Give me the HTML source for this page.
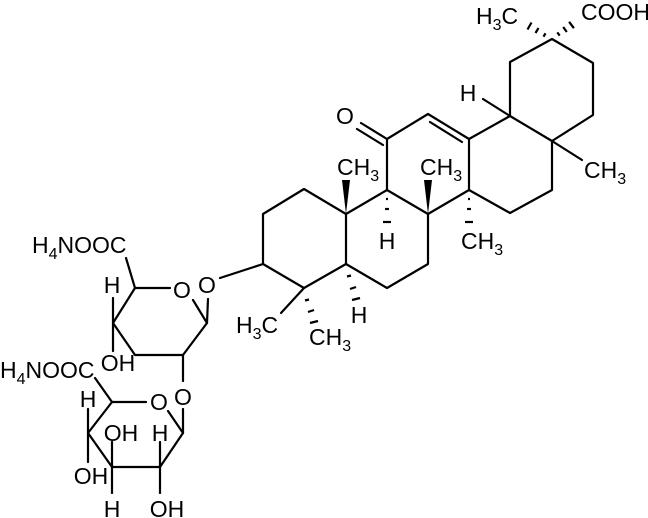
<!DOCTYPE html>
<html><head><meta charset="utf-8"><style>
html,body{margin:0;padding:0;background:#fff;}
svg{display:block}
text{font-family:"Liberation Sans",Arial,sans-serif;font-size:23px;fill:#000}
tspan.s{font-size:16px}
</style></head><body>
<svg width="648" height="518" viewBox="0 0 648 518" xmlns="http://www.w3.org/2000/svg">
<g stroke="#000" stroke-width="2.2" fill="none" stroke-linecap="round" stroke-linejoin="round">
<polyline points="346,214 304,189 263,214 263,264 304,288 346,264 346,214"/>
<polyline points="346,214 387,190 428,214 428,264 387,288 346,264"/>
<polyline points="387,190 387,139 428,114 469,139 469,190 428,214"/>
<line x1="430" y1="122" x2="462" y2="142"/>
<line x1="387" y1="139" x2="361" y2="123"/>
<line x1="383" y1="145" x2="357" y2="129"/>
<polyline points="469,139 510,116 552,141 552,190 510,213 469,190"/>
<polyline points="510,116 510,62 552,39 593,63 593,115 552,141"/>
<line x1="552" y1="141" x2="582" y2="160"/>
<line x1="510" y1="116" x2="483" y2="99"/>
<line x1="263" y1="264" x2="220" y2="278"/>
<line x1="304" y1="288" x2="281" y2="313"/>
<polyline points="170,288 135,288 113,323 135,355 183,355 207,323 193,300"/>
<line x1="207" y1="323" x2="208" y2="299"/>
<line x1="135" y1="288" x2="126" y2="258"/>
<line x1="113" y1="298" x2="113" y2="351"/>
<line x1="183" y1="355" x2="183" y2="381"/>
<polyline points="146,402 112,402 88,433 112,467 160,467 183,433 168,411"/>
<line x1="183" y1="433" x2="183" y2="409"/>
<line x1="112" y1="402" x2="95" y2="378"/>
<line x1="88" y1="409" x2="88" y2="462"/>
<line x1="112" y1="442" x2="112" y2="493"/>
<line x1="160" y1="442" x2="160" y2="493"/>
</g>
<polygon points="346,214 342,180 350,180" fill="#000"/>
<polygon points="428,214 424,180 432,180" fill="#000"/>
<g stroke="#000" stroke-width="2.2">
<line x1="386" y1="199" x2="388" y2="199"/><line x1="385" y1="209" x2="389" y2="209"/><line x1="383" y1="222" x2="391" y2="222"/>
<line x1="468" y1="199" x2="470" y2="199"/><line x1="467" y1="209" x2="471" y2="209"/><line x1="465" y1="222" x2="473" y2="222"/>
<line x1="347" y1="276.5" x2="351" y2="275.5"/><line x1="350" y1="289" x2="356" y2="287"/><line x1="352" y1="300" x2="360" y2="298"/>
<line x1="305" y1="300.5" x2="309" y2="299.5"/><line x1="308" y1="312" x2="314" y2="310"/><line x1="310" y1="323" x2="318" y2="321"/>
<line x1="543.5" y1="36.7" x2="545.5" y2="33.3"/><line x1="535.5" y1="33" x2="538.5" y2="28"/><line x1="527.5" y1="29.5" x2="531.5" y2="22.5"/>
<line x1="557.3" y1="32.4" x2="559.7" y2="35.6"/><line x1="563.2" y1="27" x2="566.8" y2="32"/><line x1="569.1" y1="21.8" x2="573.9" y2="28.2"/>
</g>
<text x="345" y="124" text-anchor="middle">O</text>
<text x="337" y="175">CH<tspan class="s" dy="6">3</tspan></text>
<text x="420" y="175">CH<tspan class="s" dy="6">3</tspan></text>
<text x="387" y="249" text-anchor="middle">H</text>
<text x="461" y="249">CH<tspan class="s" dy="6">3</tspan></text>
<text x="359" y="323" text-anchor="middle">H</text>
<text x="236" y="333">H<tspan class="s" dy="6">3</tspan><tspan dy="-6">C</tspan></text>
<text x="309" y="345">CH<tspan class="s" dy="6">3</tspan></text>
<text x="476" y="24">H<tspan class="s" dy="6">3</tspan><tspan dy="-6">C</tspan></text>
<text x="581" y="20">COOH</text>
<text x="468" y="101" text-anchor="middle">H</text>
<text x="584" y="178">CH<tspan class="s" dy="6">3</tspan></text>
<text x="32" y="253">H<tspan class="s" dy="6">4</tspan><tspan dy="-6">NOOC</tspan></text>
<text x="182" y="298" text-anchor="middle">O</text>
<text x="207" y="293" text-anchor="middle">O</text>
<text x="112" y="293" text-anchor="middle">H</text>
<text x="118" y="371" text-anchor="middle">OH</text>
<text x="0" y="378">H<tspan class="s" dy="6">4</tspan><tspan dy="-6">NOOC</tspan></text>
<text x="183" y="405" text-anchor="middle">O</text>
<text x="159" y="410" text-anchor="middle">O</text>
<text x="88" y="407" text-anchor="middle">H</text>
<text x="121" y="441" text-anchor="middle">OH</text>
<text x="160" y="441" text-anchor="middle">H</text>
<text x="91" y="484" text-anchor="middle">OH</text>
<text x="112" y="517" text-anchor="middle">H</text>
<text x="167" y="517" text-anchor="middle">OH</text>
</svg>
</body></html>
